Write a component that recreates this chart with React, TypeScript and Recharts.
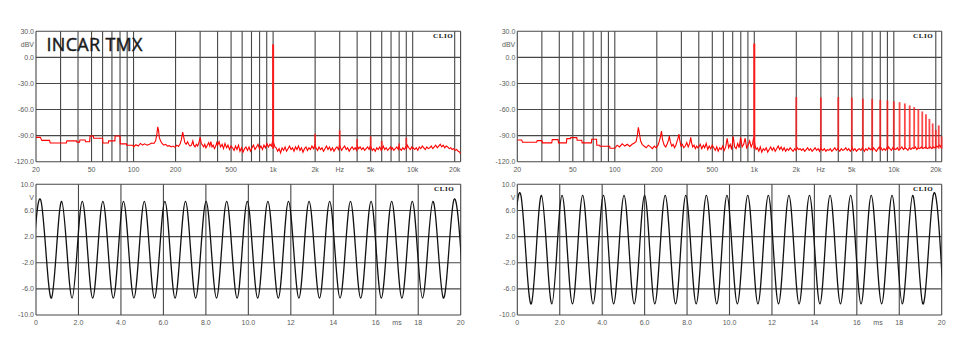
import React from 'react';
import { LineChart, Line, XAxis, YAxis, CartesianGrid, ReferenceLine } from 'recharts';

// ---------- spectrum axes ----------
const freqTicks = [20, 50, 100, 200, 500, 1000, 2000, 3000, 5000, 10000, 20000];
const freqTickLabels = ['20', '50', '100', '200', '500', '1k', '2k', 'Hz', '5k', '10k', '20k'];
const freqGrid = [20, 30, 40, 50, 60, 70, 80, 90, 100, 200, 300, 400, 500, 600, 700, 800, 900,
  1000, 2000, 3000, 4000, 5000, 6000, 7000, 8000, 9000, 10000, 20000, 22050];
const dbTicks = [-120, -90, -60, -30, 0, 15, 30];
const dbTickLabels = ['-120.0', '-90.0', '-60.0', '-30.0', '0.0', 'dBV', '30.0'];
const dbGrid = [-120, -90, -60, -30, 0, 30];
const dbMinor = [-115, -110, -105, -100, -95, -85, -80, -75, -70, -65, -55, -50, -45, -40, -35,
  -25, -20, -15, -10, -5, 5, 10, 15, 20, 25];

// ---------- low-frequency part (stepped FFT bins) ----------
const lowFreqL = [
  20, 21.5, 22, 25, 25.3, 33, 33.3, 39, 39.3, 41,
  41.3, 45, 45.3, 48.5, 48.8, 51.5, 51.8, 60, 60.3, 66,
  66.3, 73.5, 73.8, 80, 80.3, 89, 89.3, 99, 100, 104,
  108, 112, 116, 120, 125, 130, 135, 140, 144, 147,
  149, 151, 153, 156, 160, 165, 170, 175, 180, 186,
  192, 198, 204, 210, 216, 220, 225, 229, 233, 238,
  244, 248, 254, 260, 266, 270, 276, 282, 288, 294,
  300, 306, 312, 318, 324, 330, 338, 345, 352, 358,
  365, 372, 380, 388, 395];
const lowDbL = [
  -92, -92, -95.5, -95.5, -98.5, -98.5, -96, -96, -97.5, -97.5,
  -95, -95, -97, -97, -90.5, -90.5, -93, -93, -98.5, -98.5,
  -96, -96, -90.5, -90.5, -99.5, -99.5, -101, -101, -103, -100.5,
  -102, -99, -101, -99.5, -101, -100, -98.5, -99, -96, -88,
  -80, -84, -92, -96, -99, -101, -100, -102, -101.5, -103,
  -102, -103.5, -101, -102.5, -99, -95, -86, -92, -98, -100,
  -97, -100, -102, -101, -96, -101, -103, -100, -102, -98,
  -92, -99, -101, -103, -100, -104, -101, -98, -102, -97,
  -103, -101, -105, -102, -98];

const lowFreqR = [
  20, 21.5, 21.8, 27.5, 27.8, 30, 30.3, 35.3, 35.6, 39.2,
  39.5, 45, 45.3, 48, 48.3, 53.4, 53.7, 58, 58.3, 68,
  68.3, 74, 74.3, 78, 78.3, 92, 92.3, 100, 104, 108,
  113, 118, 123, 128, 133, 138, 142, 145, 147.5, 150,
  153, 157, 162, 168, 174, 180, 186, 192, 198, 204,
  208, 212, 216, 220, 226, 232, 238, 243, 246, 250,
  256, 262, 268, 274, 280, 285, 288, 292, 298, 305,
  312, 320, 328, 336, 344, 350, 355, 362, 370, 378,
  386, 394];
const lowDbR = [
  -95, -95, -97.7, -97.7, -95.8, -95.8, -98.4, -98.4, -94.6, -94.6,
  -98.4, -98.4, -93.5, -93.5, -92.3, -92.3, -95.4, -95.4, -98.4, -98.4,
  -94.2, -94.2, -101, -101, -102.3, -102.3, -104.6, -104.6, -101, -103,
  -99.5, -102, -100, -102.5, -100, -98.5, -97, -90, -80.5, -87,
  -96, -100, -102, -104, -101, -103, -105, -102, -104, -101,
  -97, -92, -84.7, -95, -101, -103, -99, -95, -90.5, -97,
  -102, -100, -104, -101, -96, -92, -88.2, -95, -102, -100,
  -104, -102, -98, -103, -99, -91.9, -98, -103, -101, -105,
  -102, -104];

// ---------- noise floor (400 Hz .. 22 kHz) ----------
const noiseFreqs = [
  400, 410, 420, 431, 441, 452, 464, 475, 487, 499,
  512, 525, 538, 551, 565, 579, 594, 608, 624, 639,
  655, 672, 688, 706, 723, 741, 760, 779, 798, 818,
  839, 860, 881, 903, 926, 949, 973, 990, 1012, 1030,
  1052, 1078, 1104, 1131, 1159, 1188, 1218, 1248, 1279, 1311,
  1344, 1378, 1412, 1447, 1483, 1520, 1558, 1597, 1637, 1678,
  1720, 1763, 1807, 1852, 1898, 1945, 1990, 2030, 2080, 2132,
  2185, 2240, 2296, 2353, 2412, 2472, 2534, 2597, 2662, 2729,
  2797, 2867, 2939, 2990, 3040, 3100, 3178, 3257, 3338, 3422,
  3507, 3595, 3685, 3777, 3871, 3968, 4020, 4100, 4203, 4308,
  4415, 4526, 4639, 4755, 4874, 4970, 5040, 5135, 5263, 5395,
  5530, 5668, 5810, 5955, 6050, 6150, 6300, 6460, 6620, 6780,
  6950, 7040, 7150, 7330, 7510, 7700, 7890, 7980, 8090, 8290,
  8500, 8710, 8930, 9030, 9150, 9380, 9610, 9850, 9990, 10100,
  10350, 10610, 10880, 11150, 11430, 11720, 12010, 12310, 12620, 12930,
  13260, 13590, 13930, 14280, 14630, 15000, 15370, 15760, 16150, 16550,
  16970, 17390, 17830, 18270, 18730, 19200, 19680, 20170, 20670, 21190,
  21720, 22050];
const noiseDbL = [
  -101, -97, -103, -100, -105, -99, -104, -101, -106, -102,
  -104, -107, -102, -106, -101, -108, -104, -109, -105, -103,
  -107, -103, -108, -104, -101, -106, -103, -100, -105, -102,
  -106, -101, -104, -99, -103, -100, -102, -97, -99, -103,
  -104, -108, -105, -110, -104, -107, -103, -108, -105, -102,
  -106, -104, -108, -103, -106, -102, -107, -104, -109, -105,
  -103, -107, -104, -106, -102, -105, -101, -104, -107, -103,
  -106, -104, -108, -105, -102, -106, -103, -107, -104, -108,
  -105, -103, -106, -101, -104, -107, -104, -102, -106, -104,
  -108, -105, -103, -106, -104, -107, -102, -105, -103, -106,
  -104, -107, -105, -103, -106, -102, -104, -107, -105, -108,
  -104, -106, -103, -107, -105, -102, -106, -104, -107, -105,
  -103, -106, -104, -107, -105, -103, -106, -102, -105, -107,
  -104, -106, -103, -105, -101, -104, -106, -103, -105, -104,
  -106, -104, -107, -103, -105, -102, -104, -106, -103, -105,
  -104, -102, -105, -103, -101, -104, -102, -100, -103, -101,
  -104, -102, -103, -105, -104, -106, -105, -107, -106, -108,
  -109, -111];
const noiseDbR = [
  -103, -100, -105, -101, -104, -99, -106, -102, -105, -101,
  -104, -107, -103, -108, -104, -106, -102, -107, -103, -93,
  -104, -100, -106, -91, -103, -105, -99, -104, -92, -103,
  -100, -93, -104, -101, -96, -103, -99, -92, -101, -106,
  -104, -108, -103, -109, -105, -107, -104, -109, -106, -103,
  -107, -104, -108, -105, -102, -106, -103, -107, -104, -108,
  -105, -107, -104, -106, -108, -105, -107, -104, -106, -105,
  -107, -105, -108, -106, -104, -107, -105, -108, -106, -104,
  -107, -105, -108, -104, -106, -107, -105, -108, -106, -107,
  -105, -108, -106, -104, -107, -105, -106, -108, -105, -107,
  -106, -104, -107, -105, -108, -106, -104, -107, -105, -108,
  -106, -105, -107, -104, -106, -108, -105, -107, -104, -106,
  -105, -107, -104, -106, -108, -105, -103, -106, -104, -107,
  -105, -107, -104, -106, -103, -105, -107, -104, -106, -105,
  -106, -104, -107, -105, -103, -106, -104, -105, -107, -104,
  -106, -104, -105, -103, -106, -104, -105, -103, -105, -104,
  -103, -105, -104, -103, -105, -103, -104, -102, -103, -101,
  -103, -100];

// ---------- harmonic lines ----------
const spikeFreqL = [1000, 2000, 3000, 4000, 5000, 6000, 8000, 9000];
const spikeDbL = [15, -88, -84, -94, -91, -96, -99, -92.5];
const spikeFreqR = [1000, 2000, 3000, 4000, 5000, 6000, 7000, 8000, 9000, 10000, 11000,
  12000, 13000, 14000, 15000, 16000, 17000, 18000, 19000, 20000, 21000, 22000];
const spikeDbR = [16, -45.6, -45.9, -45.6, -46.2, -47.4, -47.7, -48.9, -49.6, -50.4, -51.5,
  -53, -55.3, -57.2, -59.5, -62.2, -65.3, -70.7, -76, -83.3, -78.3, -91];

// ---------- waveform axes ----------
const msTicks = [0, 2, 4, 6, 8, 10, 12, 14, 16, 17, 18, 20];
const msTickLabels = ['0', '2.0', '4.0', '6.0', '8.0', '10.0', '12', '14', '16', 'ms', '18', '20'];
const msGrid = [0, 2, 4, 6, 8, 10, 12, 14, 16, 18, 20];
const vTicks = [-10, -6, -2, 2, 6, 8, 10];
const vTickLabels = ['-10.0', '-6.0', '-2.0', '2.0', '6.0', 'V', '10.0'];
const vGrid = [-10, -6, -2, 2, 6, 10];
const vMinor = [-9.5, -9, -8.5, -8, -7.5, -7, -6.5, -5.5, -5, -4.5, -4, -3.5, -3, -2.5, -1.5, -1,
  -0.5, 0, 0.5, 1, 1.5, 2.5, 3, 3.5, 4, 4.5, 5, 5.5, 6.5, 7, 7.5, 8, 8.5, 9, 9.5];

// ---------- waveform extremes (troughs / peaks) ----------
const waveTimeL = [
  -0.25, 0.24, 0.73, 1.21, 1.70, 2.18, 2.67, 3.15, 3.64, 4.12,
  4.61, 5.10, 5.58, 6.07, 6.55, 7.04, 7.52, 8.01, 8.50, 8.98,
  9.47, 9.95, 10.44, 10.92, 11.41, 11.89, 12.38, 12.86, 13.35, 13.83,
  14.32, 14.81, 15.29, 15.78, 16.26, 16.75, 17.23, 17.72, 18.20, 18.69,
  19.18, 19.66, 20.15];
const waveVoltL = [
  -7.4, 7.4, -7.4, 7.4, -7.4, 7.4, -7.4, 7.4, -7.4, 7.4,
  -7.4, 7.4, -7.4, 7.4, -7.4, 7.4, -7.4, 7.4, -7.4, 7.4,
  -7.4, 7.4, -7.4, 7.4, -7.4, 7.4, -7.4, 7.4, -7.4, 7.4,
  -7.4, 7.4, -7.4, 7.4, -7.4, 7.4, -7.4, 7.4, -7.4, 7.4,
  -7.4, 7.4, -7.4];
const waveTimeR = [
  -0.32, 0.17, 0.66, 1.14, 1.63, 2.11, 2.60, 3.08, 3.57, 4.06,
  4.54, 5.03, 5.51, 6.00, 6.48, 6.97, 7.46, 7.94, 8.43, 8.91,
  9.40, 9.88, 10.37, 10.86, 11.34, 11.83, 12.31, 12.80, 13.28, 13.77,
  14.26, 14.74, 15.23, 15.71, 16.20, 16.68, 17.17, 17.66, 18.14, 18.63,
  19.11, 19.60, 20.09];
const waveVoltR = [
  -8.3, 8.3, -8.3, 8.3, -8.3, 8.3, -8.3, 8.3, -8.3, 8.3,
  -8.3, 8.3, -8.3, 8.3, -8.3, 8.3, -8.3, 8.3, -8.3, 8.3,
  -8.3, 8.3, -8.3, 8.3, -8.3, 8.3, -8.3, 8.3, -8.3, 8.3,
  -8.3, 8.3, -8.3, 8.3, -8.3, 8.3, -8.3, 8.3, -8.3, 8.3,
  -8.3, 8.3, -8.3];

// ---------- build tables ----------
const buildSpectrum = (lf: number[], ld: number[], nd: number[]) => [
  ...lf.map((f, i) => ({ f, db: ld[i] })),
  ...noiseFreqs.map((f, i) => ({ f, db: nd[i] })),
];
const spectrumL = buildSpectrum(lowFreqL, lowDbL, noiseDbL);
const spectrumR = buildSpectrum(lowFreqR, lowDbR, noiseDbR);
const waveL = waveTimeL.map((t, i) => ({ t, v: waveVoltL[i] }));
const waveR = waveTimeR.map((t, i) => ({ t, v: waveVoltR[i] }));

const GRID = '#474747';
const TICK_STYLE = { fontSize: 7, fill: '#5a5a5a', fontFamily: '"Liberation Sans", Arial, sans-serif' };

const labelOf = (ticks: number[], labels: string[]) => (v: number) => {
  const i = ticks.indexOf(v);
  return i >= 0 ? labels[i] : '';
};

const clioStyle = (left: number, top: number): React.CSSProperties => ({
  position: 'absolute', left, top, fontFamily: '"Liberation Serif", "DejaVu Serif", serif',
  fontWeight: 700, fontSize: 7, lineHeight: '7px', letterSpacing: 0.6, color: '#111',
});

type SpecProps = { left: number; plotL: number; plotR: number; data: { f: number; db: number }[]; sf: number[]; sd: number[] };

function SpectrumPanel({ left, plotL, plotR, data, sf, sd }: SpecProps) {
  const W = 480, H = 180, YW = 30, XH = 16;
  return (
    <div style={{ position: 'absolute', left, top: 0, width: W, height: H }}>
      <LineChart width={W} height={H} data={data}
        margin={{ top: 31.3, right: W - plotR, bottom: H - 161.7 - XH, left: plotL - YW }}>
        <CartesianGrid stroke={GRID} strokeWidth={1.1} verticalValues={freqGrid} horizontalValues={dbGrid} />
        <XAxis type="number" dataKey="f" scale="log" domain={[20, 22050]} allowDataOverflow
          ticks={freqTicks} interval={0} tickFormatter={labelOf(freqTicks, freqTickLabels)}
          tickLine={false} axisLine={false} tickSize={0} tickMargin={5} height={XH} tick={TICK_STYLE} />
        <YAxis type="number" domain={[-120, 30]} allowDataOverflow ticks={dbTicks} interval={0}
          tickFormatter={labelOf(dbTicks, dbTickLabels)} tickLine={false} axisLine={false}
          tickSize={0} tickMargin={2} width={YW} tick={TICK_STYLE} />
        <YAxis yAxisId="ml" orientation="left" mirror type="number" domain={[-120, 30]} allowDataOverflow
          ticks={dbMinor} interval={0} tick={false} axisLine={false} tickSize={2} width={0}
          tickLine={{ stroke: GRID }} />
        <YAxis yAxisId="mr" orientation="right" mirror type="number" domain={[-120, 30]} allowDataOverflow
          ticks={dbMinor} interval={0} tick={false} axisLine={false} tickSize={2} width={0}
          tickLine={{ stroke: GRID }} />
        <Line type="linear" dataKey="db" stroke="#ff0000" strokeWidth={1.1} dot={false} isAnimationActive={false} />
        {sf.map((f, i) => (
          <ReferenceLine key={f} segment={[{ x: f, y: -105 }, { x: f, y: sd[i] }]}
            stroke="#ff1a1a" strokeWidth={i === 0 ? 2 : 1.8} strokeOpacity={i === 0 ? 1 : 0.8} />
        ))}
      </LineChart>
    </div>
  );
}

type WaveProps = { left: number; plotL: number; plotR: number; data: { t: number; v: number }[] };

function WavePanel({ left, plotL, plotR, data }: WaveProps) {
  const W = 480, H = 188, YW = 30, XH = 16, TOP = 172;
  return (
    <div style={{ position: 'absolute', left, top: TOP, width: W, height: H }}>
      <LineChart width={W} height={H} data={data}
        margin={{ top: 184.3 - TOP, right: W - plotR, bottom: H - (315 - TOP) - XH, left: plotL - YW }}>
        <CartesianGrid stroke={GRID} strokeWidth={1.1} verticalValues={msGrid} horizontalValues={vGrid} />
        <XAxis type="number" dataKey="t" domain={[0, 20]} allowDataOverflow ticks={msTicks} interval={0}
          tickFormatter={labelOf(msTicks, msTickLabels)} tickLine={false} axisLine={false}
          tickSize={0} tickMargin={5} height={XH} tick={TICK_STYLE} />
        <YAxis type="number" domain={[-10, 10]} allowDataOverflow ticks={vTicks} interval={0}
          tickFormatter={labelOf(vTicks, vTickLabels)} tickLine={false} axisLine={false}
          tickSize={0} tickMargin={2} width={YW} tick={TICK_STYLE} />
        <YAxis yAxisId="ml" orientation="left" mirror type="number" domain={[-10, 10]} allowDataOverflow
          ticks={vMinor} interval={0} tick={false} axisLine={false} tickSize={2} width={0}
          tickLine={{ stroke: GRID }} />
        <YAxis yAxisId="mr" orientation="right" mirror type="number" domain={[-10, 10]} allowDataOverflow
          ticks={vMinor} interval={0} tick={false} axisLine={false} tickSize={2} width={0}
          tickLine={{ stroke: GRID }} />
        <Line type="natural" dataKey="v" stroke="#111" strokeWidth={1.3} dot={false} isAnimationActive={false} />
      </LineChart>
    </div>
  );
}

export default function App() {
  return (
    <div style={{ position: 'absolute', left: 0, top: 0, width: 960, height: 360, background: '#fff', overflow: 'hidden' }}>
      <SpectrumPanel left={0} plotL={36} plotR={460.6} data={spectrumL} sf={spikeFreqL} sd={spikeDbL} />
      <SpectrumPanel left={480} plotL={37.3} plotR={461.7} data={spectrumR} sf={spikeFreqR} sd={spikeDbR} />
      <WavePanel left={0} plotL={36} plotR={460.7} data={waveL} />
      <WavePanel left={480} plotL={37.3} plotR={461.7} data={waveR} />
      <div style={{ position: 'absolute', left: 46.5, top: 35.2, fontFamily: '"Open Sans", sans-serif',
        fontSize: 18, lineHeight: '18px', fontWeight: 400, color: '#1a1a1a', whiteSpace: 'nowrap',
        WebkitTextStroke: '0.45px #1a1a1a', letterSpacing: 0.3 }}>INCAR TMX</div>
      <div style={clioStyle(433, 32.5)}>CLIO</div>
      <div style={clioStyle(913, 32.5)}>CLIO</div>
      <div style={clioStyle(434, 186)}>CLIO</div>
      <div style={clioStyle(913, 186)}>CLIO</div>
    </div>
  );
}
